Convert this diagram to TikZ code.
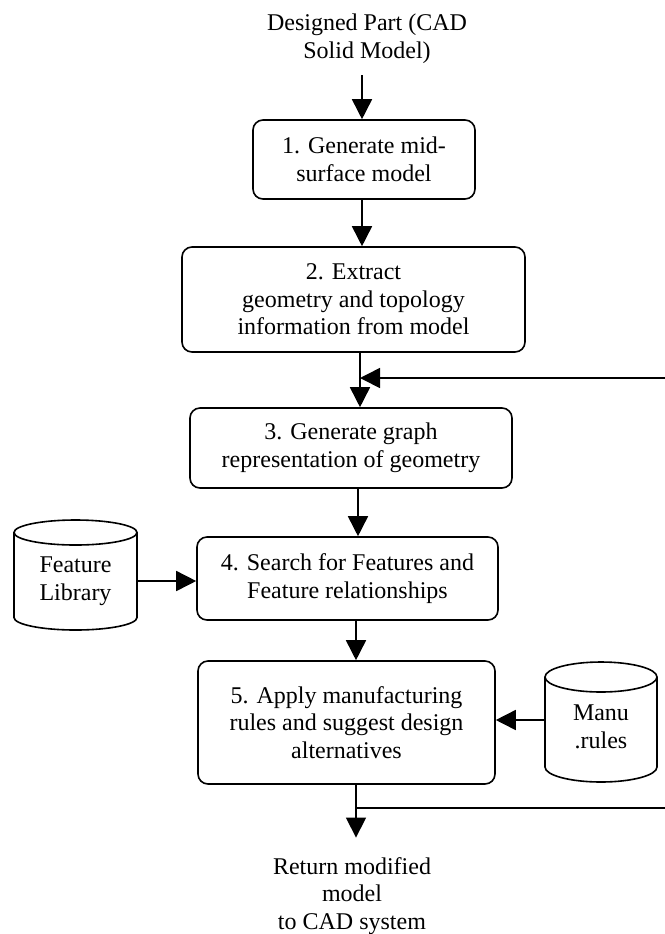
\documentclass[tikz,border=0pt]{standalone}
\usepackage{fontspec}
\setmainfont{Liberation Serif}
\usetikzlibrary{arrows.meta}
\begin{document}
\begin{tikzpicture}[x=0.5pt,y=-0.5pt,
  line width=0.8pt,
  arr/.style={-{Triangle[length=10pt,width=10pt]}},
  stepbox/.style={draw, rounded corners=5pt, align=center, inner sep=0pt,
    font=\fontsize{12}{13.8}\selectfont},
  txt/.style={align=center, inner sep=0pt, font=\fontsize{12}{13.8}\selectfont}
]
\useasboundingbox (0,0) rectangle (665,934);

% source text
\node[txt] (src) at (367,39) {Designed Part (CAD\\Solid Model)};

% process boxes
\node[stepbox, minimum width=111pt, minimum height=39.5pt] (b1) at (364,159.5)
  {1. Generate mid-\\surface model};
\node[stepbox, minimum width=171.5pt, minimum height=52.5pt] (b2) at (353.5,299.5)
  {2. Extract\\geometry and topology\\information from model};
\node[stepbox, minimum width=161pt, minimum height=40pt] (b3) at (351,448)
  {3. Generate graph\\representation of geometry};
\node[stepbox, minimum width=150.5pt, minimum height=41.5pt] (b4) at (347.5,578.5)
  {4. Search for Features and\\Feature relationships};
\node[stepbox, minimum width=148.5pt, minimum height=61.5pt] (b5) at (346.5,722.5)
  {5. Apply manufacturing\\rules and suggest design\\alternatives};

% databases (cylinders)
\draw (14,532.5) -- (14,617.5) arc[start angle=180, end angle=360, x radius=30.75pt, y radius=6.25pt] -- (137,532.5);
\draw (75.5,532.5) ellipse [x radius=30.75pt, y radius=6.25pt];
\node[txt, minimum width=61.5pt] (fl) at (75.5,581) {Feature\\Library};

\draw (545,677) -- (545,767) arc[start angle=180, end angle=360, x radius=28pt, y radius=7.5pt] -- (657,677);
\draw (601,677) ellipse [x radius=28pt, y radius=7.5pt];
\node[txt, minimum width=56pt] (mr) at (601,727) {Manu\\.rules};

% output text
\node[txt] (out) at (352,896) {Return modified\\model\\to CAD system};

% connectors
\draw[arr] ([xshift=-1pt,yshift=-5.5pt]src.south -| b1.north) -- ([xshift=-1pt]b1.north);
\draw[arr] ([xshift=-1pt]b1.south) -- ([xshift=-1pt]b1.south |- b2.north);
\coordinate (m23) at ([xshift=3.25pt]b2.south);
\draw[arr] (m23) -- (m23 |- b3.north);
\draw[arr] ([xshift=3.5pt]b3.south) -- ([xshift=3.5pt]b3.south |- b4.north);
\draw[arr] ([xshift=4.25pt]b4.south) -- ([xshift=4.25pt]b4.south |- b5.north);
\draw[arr] (fl.east) -- (fl.east -| b4.west);
\draw[arr] ([yshift=3.5pt]mr.west) -- ([yshift=3.5pt]mr.west -| b5.east);

% feedback lines
\coordinate (fbA) at (665,378);
\coordinate (fbB) at (665,808);
\coordinate (j2) at (356,808);
\draw[arr] (fbA) -- (fbA -| m23);
\draw[arr] ([xshift=4.75pt]b5.south) -- ([yshift=9.5pt]out.north -| j2);
\draw (j2) -- (fbB);
\end{tikzpicture}
\end{document}
